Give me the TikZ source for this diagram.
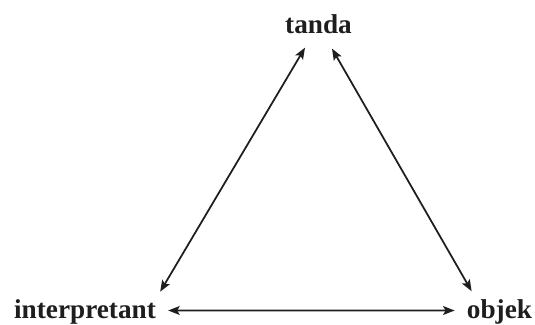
\documentclass[tikz,border=0pt]{standalone}
\usepackage{fontspec}
\setmainfont{Liberation Serif}
\usetikzlibrary{arrows.meta,calc}
\definecolor{inkline}{RGB}{30,30,30}

\begin{document}
\begin{tikzpicture}[x=0.02cm, y=-0.02cm,
  every node/.style={font=\fontsize{15.5}{18}\selectfont\bfseries, text=inkline, inner sep=0pt, anchor=base},
  link/.style={inkline, line width=1pt,
    {Stealth[length=6.5pt,width=5pt,inset=1.3pt]}-{Stealth[length=6.5pt,width=5pt,inset=1.3pt]}}]
  \useasboundingbox (0,0) rectangle (535,325);
  % the three corners of the triangle
  \node (tanda) at (318.5,33) {tanda};
  \node (interp) at (85,318) {interpretant};
  \node (objek) at (499.5,318.5) {objek};
  % double-headed links, ends set off the text boxes
  \draw[link] ([shift={(-13.5,14)}]tanda.south) -- ([shift={(4,-7)}]interp.north east);
  \draw[link] ([shift={(13.5,15)}]tanda.south) -- ([shift={(5,-8)}]objek.north west);
  \draw[link] ([shift={(12,-7.5)}]interp.base east) -- ([shift={(-12,-8)}]objek.base west);
\end{tikzpicture}
\end{document}
